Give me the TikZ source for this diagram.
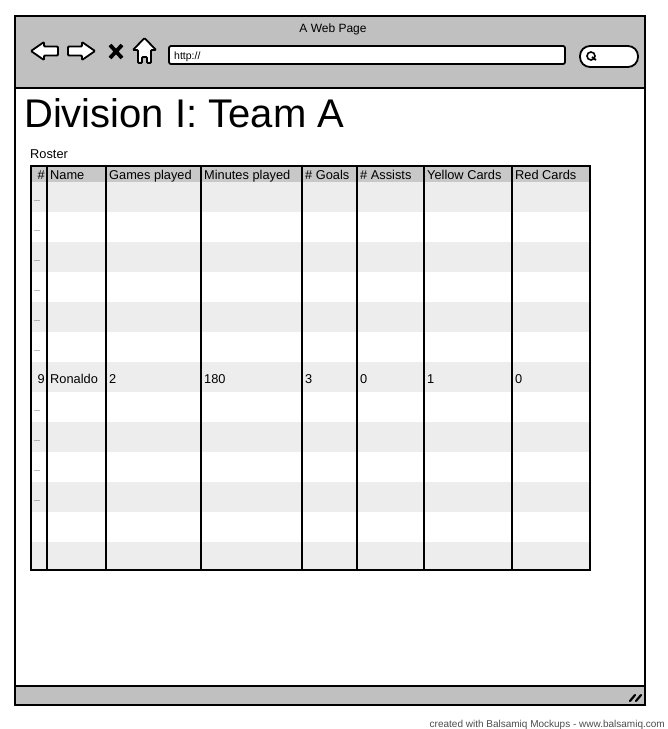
\documentclass[tikz,border=0pt]{standalone}
\usepackage{fontspec}
\setmainfont{Liberation Sans}
\definecolor{chrome}{HTML}{C0C0C0}
\definecolor{headgray}{HTML}{C8C8C8}
\definecolor{stripe}{HTML}{EDEDED}
\begin{document}
\begin{tikzpicture}[x=1pt,y=-1pt,
    frame/.style={line width=1.8pt},
    colline/.style={line width=1.5pt},
    icon/.style={draw,fill=white,line width=1.8pt,rounded corners=1pt},
    txt/.style={anchor=base west,inner sep=0pt,font=\fontsize{12.8}{14}\selectfont},
    dots/.style={anchor=base west,inner sep=0pt,font=\fontsize{7}{8}\selectfont}]
    \useasboundingbox (0,0) rectangle (668,729);

    % Finestra
    \fill[white] (15,16) rectangle (645,705);
    \fill[chrome] (15,16) rectangle (645,88);
    \fill[chrome] (15,686) rectangle (645,705);
    \draw[frame] (15,88) -- (645,88);
    \draw[frame] (15,686) -- (645,686);
    \draw[frame] (15,16) rectangle (645,705);
    \node[anchor=base,inner sep=0pt,font=\fontsize{12}{14}\selectfont] (pagetitle) at (333,32) {A Web Page};

    % Icone
    \draw[icon] (31,51) -- (44,42) -- (44,46.5) -- (58,46.5) -- (58,55.5) -- (44,55.5) -- (44,60) -- cycle;
    \draw[icon] (95,51) -- (82,42) -- (82,46.5) -- (68,46.5) -- (68,55.5) -- (82,55.5) -- (82,60) -- cycle;
    \draw[line width=3.8pt] (110,45) -- (122,58) (122,45) -- (110,58);
    \draw[icon] (144.5,38) -- (156,50) -- (151,50) -- (151,63) -- (147,63) -- (147,57)
        -- (142,57) -- (142,63) -- (138,63) -- (138,50) -- (133,50) -- cycle;

    % Indirizzo e ricerca
    \draw[icon,rounded corners=2pt] (169,46) rectangle (565,64);
    \node[anchor=base west,inner sep=0pt,font=\fontsize{10.5}{12}\selectfont] (url) at (174,59) {http://};
    \draw[icon,rounded corners=10pt] (580,46) rectangle (638,67);
    \draw[line width=1.6pt] (591,56) circle (4);
    \draw[line width=1.8pt] (592,57) -- (596,60);

    % Titolo
    \node[anchor=base west,inner sep=0pt,font=\fontsize{40}{44}\selectfont] (title) at (24,127) {Division I: Team A};
    \node[txt] (roster) at (30,158) {Roster};

    % Tabella
    \fill[headgray] (31,166) rectangle (590,182);
    \begin{scope}
        \clip (31,182) rectangle (590,570);
        \foreach \r in {0,2,...,12}
            \fill[stripe] (31,182+30*\r) rectangle (590,212+30*\r);
    \end{scope}
    \foreach \cx in {47,106,201,302,357,424,512}
        \draw[colline] (\cx,166) -- (\cx,570);
    \draw[frame] (31,166) rectangle (590,570);

    % Intestazioni
    \node[anchor=base east,inner sep=0pt,font=\fontsize{12.8}{14}\selectfont] (hnum) at (45,179) {\#};
    \foreach \cx/\lab [count=\i] in {47/Name,106/Games played,201/Minutes played,302/\# Goals,
        357/\# Assists,424/Yellow Cards,512/Red Cards}
        \node[txt] (h\i) at (\cx+3,179) {\lab};

    % Righe
    \foreach \r in {0,...,5,7,8,9,10}
        \node[dots] (d\r) at (34,201+30*\r) {...};
    \node[anchor=base east,inner sep=0pt,font=\fontsize{12.8}{14}\selectfont] (num) at (45,383) {9};
    \foreach \cx/\val [count=\i] in {47/Ronaldo,106/2,201/180,302/3,357/0,424/1,512/0}
        \node[txt] (v\i) at (\cx+3,383) {\val};

    % Piede
    \draw[line width=2.2pt,line cap=round] (630,701) -- (635,695) (636,701) -- (641,695);
    \node[anchor=base east,inner sep=0pt,text=black!70,font=\fontsize{10}{11}\selectfont] (credit) at (665,727)
        {created with Balsamiq Mockups - www.balsamiq.com};
\end{tikzpicture}
\end{document}
